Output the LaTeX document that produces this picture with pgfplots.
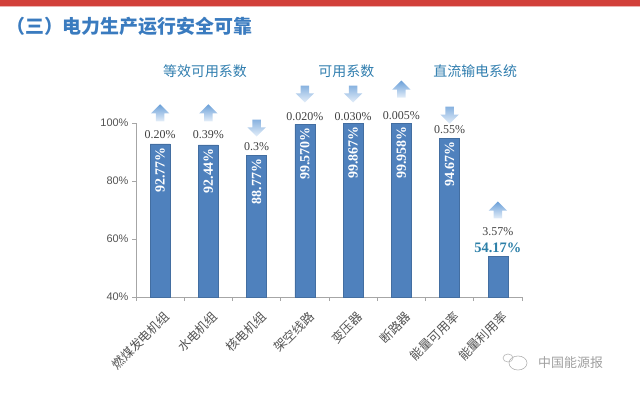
\documentclass[border=0pt]{standalone}
\usepackage{fontspec}
\setmainfont{Liberation Serif}
\newfontfamily\arial{Liberation Sans}
\newfontfamily\cjk{Noto Sans CJK SC}
\usepackage{pgfplots}
\usepackage{pgfplotstable}
\pgfplotsset{compat=1.18}
\usetikzlibrary{shapes.arrows}
\definecolor{barblue}{HTML}{4F81BD}
\definecolor{titleblue}{HTML}{3A7BBF}
\definecolor{groupblue}{HTML}{2F7DAE}
\definecolor{tealnum}{HTML}{2C7FA8}
\definecolor{redband}{HTML}{D2403A}
\definecolor{arrowdark}{HTML}{6A9FD8}
\definecolor{arrowlight}{HTML}{E4EEF9}
\definecolor{txtgray}{HTML}{404040}
\definecolor{axgray}{HTML}{A6A6A6}
\pgfplotstableread{
x y lab
0 92.77 92.77
1 92.44 92.44
2 88.77 88.77
3 99.570 99.570
4 99.867 99.867
5 99.958 99.958
6 94.67 94.67
}\bardata
\begin{document}
\begin{tikzpicture}[x=1bp,y=1bp,
  uparr/.style={single arrow, shape border rotate=90, draw=none, top color=arrowdark, bottom color=arrowlight,
    minimum height=17bp, single arrow head extend=5bp, inner sep=4bp},
  downarr/.style={single arrow, shape border rotate=270, draw=none, top color=arrowdark!80, bottom color=arrowlight,
    minimum height=17bp, single arrow head extend=5bp, inner sep=4bp},
  pct/.style={text=txtgray, font=\fontsize{12}{12}\selectfont, inner sep=0pt},
  grp/.style={text=groupblue, font=\cjk\fontsize{14}{14}\selectfont, inner sep=0pt}]
\useasboundingbox (0,0) rectangle (640,393);
\fill[redband] (0,387) rectangle (640,393);
\fill[redband!40] (0,386) rectangle (640,387);
\node[anchor=west, text=titleblue, font=\cjk\bfseries\fontsize{19}{19}\selectfont, inner sep=0pt] at (6,367) {（三）电力生产运行安全可靠};
\draw[gray!60, line width=0.6bp] (518,30) ellipse (9bp and 7bp);
\draw[gray!60, line width=0.6bp] (508,35) ellipse (5bp and 4bp);
\node[anchor=west, text=gray!75, font=\cjk\fontsize{13}{13}\selectfont, inner sep=0pt] at (538,30) {中国能源报};
\begin{axis}[at={(136bp,96bp)}, anchor=south west, scale only axis,
  width=386bp, height=174bp,
  xmin=-0.5, xmax=7.5, ymin=40, ymax=100,
  ybar, bar width=20bp,
  clip mode=individual,
  axis x line*=bottom, axis y line*=left,
  axis line style={axgray, line width=0.8bp, -},
  tick align=outside,
  ytick={40,60,80,100},
  yticklabel={\pgfmathprintnumber{\tick}\%},
  /pgf/number format/assume math mode=true,
  yticklabel style={font=\arial\fontsize{11}{11}\selectfont, text=txtgray!90},
  ytick style={axgray, line width=0.8bp},
  major tick length=4bp,
  xtick={0,...,7},
  xticklabels={燃煤发电机组,水电机组,核电机组,架空线路,变压器,断路器,能量可用率,能量利用率},
  xticklabel style={rotate=45, anchor=north east, font=\cjk\fontsize{12.5}{12.5}\selectfont, text=txtgray!90, xshift=-1bp, yshift=-5bp},
  major x tick style={draw=none},
  minor xtick={-0.5,0.5,...,7.5},
  minor x tick style={axgray, line width=0.8bp},
  minor tick length=4bp,
]
\addplot[fill=barblue, draw=barblue!85!black, line width=0.3bp, bar shift=0pt,
  point meta=explicit symbolic,
  nodes near coords={\pgfplotspointmeta\%},
  every node near coord/.append style={rotate=90, anchor=east, text=white, font=\bfseries\fontsize{14}{14}\selectfont, inner sep=3bp}]
  table[x=x, y=y, meta=lab] {\bardata};
\addplot[fill=barblue, draw=barblue!85!black, line width=0.3bp, bar shift=0pt] coordinates {(7,54.17)};
% arrows and changes
\node[uparr] at (axis cs:0,102.8) {};
\node[pct] at (axis cs:0,95.9) {0.20\%};
\node[uparr] at (axis cs:1,102.8) {};
\node[pct] at (axis cs:1,95.9) {0.39\%};
\node[downarr] at (axis cs:2,99.0) {};
\node[pct] at (axis cs:2,91.7) {0.3\%};
\node[downarr] at (axis cs:3,110.7) {};
\node[pct] at (axis cs:3,102.3) {0.020\%};
\node[downarr] at (axis cs:4,110.7) {};
\node[pct] at (axis cs:4,102.3) {0.030\%};
\node[uparr] at (axis cs:5,111) {};
\node[pct] at (axis cs:5,102.5) {0.005\%};
\node[downarr] at (axis cs:6,103.4) {};
\node[pct] at (axis cs:6,97.6) {0.55\%};
\node[uparr] at (axis cs:7,69.3) {};
\node[pct] at (axis cs:7,62.4) {3.57\%};
\node[text=tealnum, font=\bfseries\fontsize{14.5}{14.5}\selectfont, inner sep=0pt] at (axis cs:7,56.9) {54.17\%};
% group labels
\node[grp] at (axis cs:0.93,117.8) {等效可用系数};
\node[grp] at (axis cs:3.86,117.8) {可用系数};
\node[grp] at (axis cs:6.53,117.8) {直流输电系统};
\end{axis}
\end{tikzpicture}
\end{document}
